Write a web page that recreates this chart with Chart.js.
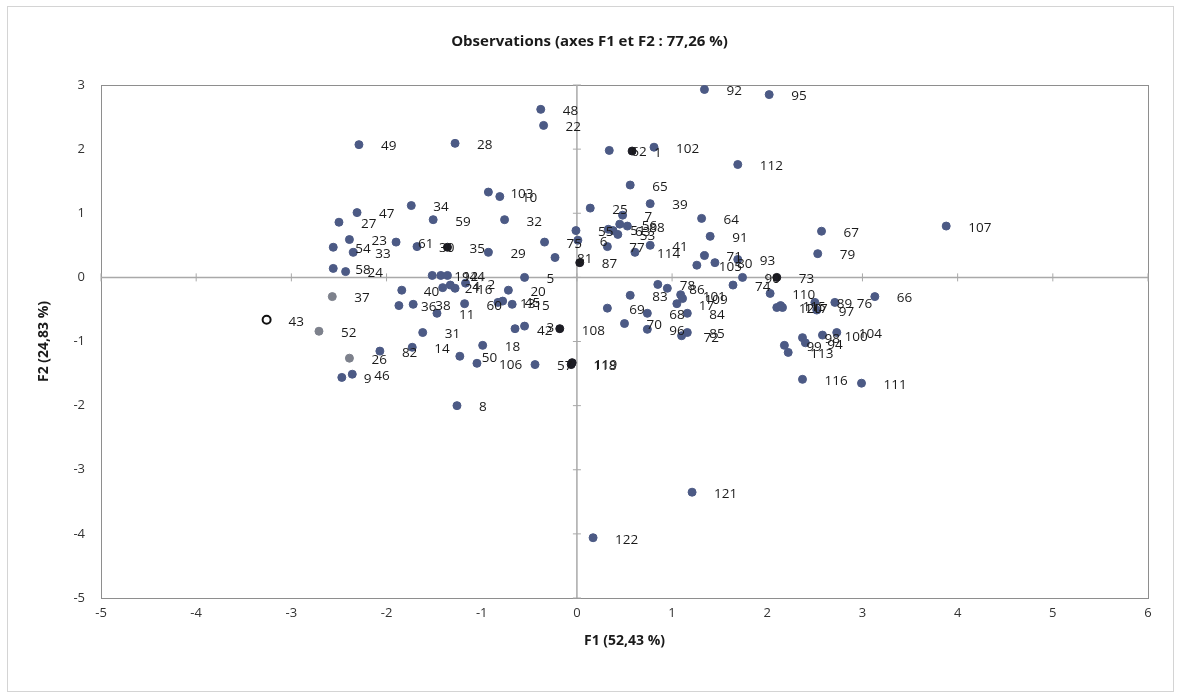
<!DOCTYPE html>
<html>
<head>
<meta charset="utf-8">
<script src="https://cdn.jsdelivr.net/npm/chart.js@4.4.0/dist/chart.umd.min.js"></script>
<style>
    html, body { margin: 0; padding: 0; background: #fff; }
    #wrap { width: 1181px; height: 698px; }
</style>
</head>
<body>
<div id="wrap"><canvas id="chartObs" width="1181" height="698"></canvas></div>
<script>
// =========================================================================
// DONNÉES
// =========================================================================
const obsLabels = [
    92, 95, 48, 22, 49, 28, 62, 1, 102, 112,
    65, 103, 10, 39, 25, 7, 34, 47, 27, 59,
    32, 23, 61, 30, 35, 29, 54, 33, 58, 24,
    37, 52, 43, 40, 36, 38, 11, 31, 14, 82,
    26, 9, 46, 18, 50, 106, 8, 20, 42, 3,
    108, 5, 75, 81, 87, 77, 63, 88, 53, 114,
    41, 64, 91, 67, 79, 93, 71, 74, 110, 73,
    66, 89, 76, 99, 113, 98, 100, 104, 116, 111,
    107, 121, 122, 19, 12, 44, 21, 16, 2, 55,
    6, 60, 13, 15, 57, 118, 119, 83, 69, 70,
    68, 96, 72, 85, 17, 84, 78, 86, 101, 109,
    105, 80, 90, 120, 117, 97, 4, 45, 51, 56,
    94, 115
];
const f1 = [
    1.34, 2.02, -0.38, -0.35, -2.29, -1.28, 0.34, 0.58, 0.81, 1.69,
    0.56, -0.93, -0.81, 0.77, 0.14, 0.48, -1.74, -2.31, -2.50, -1.51,
    -0.76, -2.39, -1.90, -1.68, -1.36, -0.93, -2.56, -2.35, -2.56, -2.43,
    -2.57, -2.71, -3.26, -1.84, -1.87, -1.72, -1.47, -1.62, -1.73, -2.07,
    -2.39, -2.47, -2.36, -0.99, -1.23, -1.05, -1.26, -0.72, -0.65, -0.55,
    -0.18, -0.55, -0.34, -0.23, 0.03, 0.32, 0.38, 0.53, 0.43, 0.61,
    0.77, 1.31, 1.40, 2.57, 2.53, 1.69, 1.34, 1.64, 2.03, 2.10,
    3.13, 2.50, 2.71, 2.18, 2.22, 2.37, 2.58, 2.73, 2.37, 2.99,
    3.88, 1.21, 0.17, -1.52, -1.43, -1.36, -1.41, -1.28, -1.17, -0.01,
    0.01, -1.18, -0.83, -0.68, -0.44, -0.06, -0.05, 0.56, 0.32, 0.50,
    0.74, 0.74, 1.10, 1.16, 1.05, 1.16, 0.85, 0.95, 1.09, 1.11,
    1.26, 1.45, 1.74, 2.10, 2.16, 2.52, -1.33, -0.78, 0.33, 0.45,
    2.40, 2.14
];
const f2 = [
    2.93, 2.85, 2.62, 2.37, 2.07, 2.09, 1.98, 1.97, 2.03, 1.76,
    1.44, 1.33, 1.26, 1.15, 1.08, 0.97, 1.12, 1.01, 0.86, 0.90,
    0.90, 0.59, 0.55, 0.48, 0.47, 0.39, 0.47, 0.39, 0.14, 0.09,
    -0.30, -0.84, -0.66, -0.20, -0.44, -0.42, -0.56, -0.86, -1.09, -1.15,
    -1.26, -1.56, -1.51, -1.06, -1.23, -1.34, -2.00, -0.20, -0.80, -0.76,
    -0.80, 0.00, 0.55, 0.31, 0.23, 0.48, 0.73, 0.80, 0.67, 0.39,
    0.50, 0.92, 0.64, 0.72, 0.37, 0.28, 0.34, -0.12, -0.25, 0.00,
    -0.30, -0.39, -0.39, -1.06, -1.17, -0.94, -0.90, -0.86, -1.59, -1.65,
    0.80, -3.35, -4.06, 0.03, 0.03, 0.03, -0.16, -0.17, -0.09, 0.73,
    0.58, -0.41, -0.39, -0.42, -1.36, -1.36, -1.33, -0.28, -0.48, -0.72,
    -0.56, -0.81, -0.91, -0.86, -0.41, -0.56, -0.11, -0.17, -0.27, -0.33,
    0.19, 0.23, 0.00, -0.47, -0.47, -0.51, -0.12, -0.37, 0.75, 0.83,
    -1.02, -0.44
];

// Points dessinés plus foncés / plus clairs
const darkObs = [1, 35, 87, 108, 73, 118, 119];
const greyObs = [37, 52, 26];
const ringObs = [43];

const xTitle = 'F1 (52,43 %)';
const yTitle = 'F2 (24,83 %)';
const chartTitle = 'Observations (axes F1 et F2 : 77,26 %)';

// =========================================================================
// PLUGINS
// =========================================================================
const FONT = '"Open Sans", "Noto Sans", sans-serif';

// Fond blanc + cadre extérieur
const cadre = {
    id: 'cadre',
    beforeDraw(chart) {
        const ctx = chart.ctx;
        ctx.save();
        ctx.fillStyle = '#fff';
        ctx.fillRect(0, 0, chart.width, chart.height);
        ctx.strokeStyle = '#d4d4d4';
        ctx.lineWidth = 1;
        ctx.strokeRect(7.5, 6.5, chart.width - 15, chart.height - 13);
        ctx.restore();
    }
};

// Axes passant par zéro avec graduations + cadre de la zone de tracé
const axesZero = {
    id: 'axesZero',
    beforeDatasetsDraw(chart) {
        const { ctx, chartArea: a, scales: { x, y } } = chart;
        const x0 = x.getPixelForValue(0);
        const y0 = y.getPixelForValue(0);
        ctx.save();
        ctx.strokeStyle = '#8e8e8e';
        ctx.lineWidth = 1;
        ctx.strokeRect(a.left + 0.5, a.top + 0.5, a.width, a.height);

        ctx.strokeStyle = '#a9a9a9';
        ctx.lineWidth = 1.5;
        ctx.beginPath();
        ctx.moveTo(a.left, y0);
        ctx.lineTo(a.right, y0);
        ctx.moveTo(x0, a.top);
        ctx.lineTo(x0, a.bottom);
        ctx.stroke();

        ctx.lineWidth = 1;
        ctx.beginPath();
        x.ticks.forEach(t => {
            const px = x.getPixelForValue(t.value);
            ctx.moveTo(px, y0 - 4);
            ctx.lineTo(px, y0 + 4);
        });
        y.ticks.forEach(t => {
            const py = y.getPixelForValue(t.value);
            ctx.moveTo(x0 - 4, py);
            ctx.lineTo(x0 + 4, py);
        });
        ctx.stroke();
        ctx.restore();
    }
};

// Étiquettes des observations à droite de chaque point
const etiquettes = {
    id: 'etiquettes',
    afterDatasetsDraw(chart) {
        const ctx = chart.ctx;
        const meta = chart.getDatasetMeta(0);
        ctx.save();
        ctx.font = '13.5px ' + FONT;
        ctx.fillStyle = '#1a1a1a';
        ctx.textAlign = 'left';
        ctx.textBaseline = 'middle';
        meta.data.forEach((el, i) => {
            ctx.fillText(String(obsLabels[i]), el.x + 22, el.y + 2);
        });
        ctx.restore();
    }
};

// =========================================================================
// GRAPHIQUE
// =========================================================================
const points = obsLabels.map((lab, i) => ({ x: f1[i], y: f2[i] }));
const couleurs = obsLabels.map(lab => {
    if (darkObs.includes(lab)) return '#1c1c24';
    if (greyObs.includes(lab)) return '#7d818c';
    if (ringObs.includes(lab)) return '#ffffff';
    return '#4c5a85';
});
const bords = obsLabels.map(lab => {
    if (ringObs.includes(lab)) return '#111111';
    if (darkObs.includes(lab)) return '#1c1c24';
    if (greyObs.includes(lab)) return '#7d818c';
    return '#4c5a85';
});

new Chart(document.getElementById('chartObs').getContext('2d'), {
    type: 'scatter',
    data: {
        datasets: [{
            label: 'Observations',
            data: points,
            pointRadius: 4,
            pointBackgroundColor: couleurs,
            pointBorderColor: bords,
            pointBorderWidth: obsLabels.map(lab => ringObs.includes(lab) ? 2 : 1)
        }]
    },
    options: {
        responsive: false,
        animation: false,
        layout: { padding: { left: 31, right: 33, top: 0, bottom: 30 } },
        plugins: {
            legend: { display: false },
            tooltip: { enabled: false },
            title: {
                display: true,
                text: chartTitle,
                color: '#1a1a1a',
                font: { family: FONT, size: 15, weight: 'bold' },
                padding: { top: 33, bottom: 34 }
            }
        },
        scales: {
            x: {
                type: 'linear',
                min: -5,
                max: 6,
                grid: { display: false, drawTicks: false },
                border: { display: false },
                ticks: {
                    stepSize: 1,
                    color: '#333',
                    padding: 7,
                    font: { family: FONT, size: 13 }
                },
                title: {
                    display: true,
                    text: xTitle,
                    color: '#1a1a1a',
                    font: { family: FONT, size: 14, weight: 'bold' },
                    padding: { top: 0, bottom: 19 }
                },
                afterFit: (s) => { s.height = 70; }
            },
            y: {
                type: 'linear',
                min: -5,
                max: 3,
                grid: { display: false, drawTicks: false },
                border: { display: false },
                ticks: {
                    stepSize: 1,
                    color: '#333',
                    padding: 16,
                    font: { family: FONT, size: 13 }
                },
                title: {
                    display: true,
                    text: yTitle,
                    color: '#1a1a1a',
                    font: { family: FONT, size: 14, weight: 'bold' },
                    padding: { top: 5, bottom: 0 }
                },
                afterFit: (s) => { s.width = 70; }
            }
        }
    },
    plugins: [cadre, axesZero, etiquettes]
});
</script>
</body>
</html>
